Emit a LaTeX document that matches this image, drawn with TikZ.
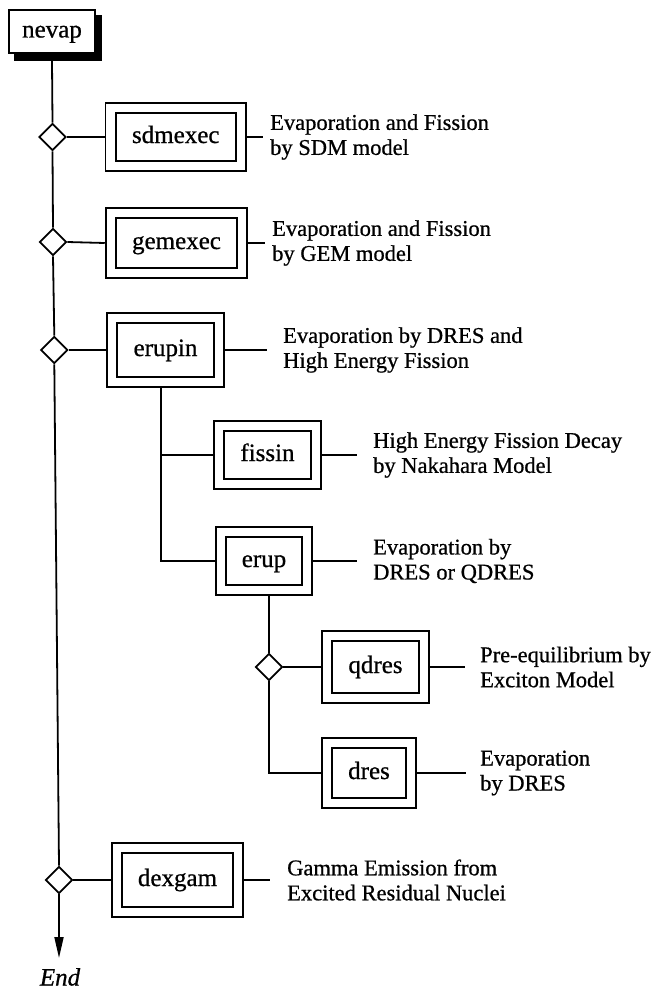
\documentclass[tikz,border=0pt]{standalone}
\usepackage{fontspec}
\setmainfont{Liberation Serif}[FakeBold=0.7]
\newfontfamily\inkfont{Liberation Serif}[FakeBold=0.7]
\usetikzlibrary{shapes.geometric,arrows.meta}

\begin{document}
\begin{tikzpicture}[x=1pt,y=-1pt,
  lw/.style={line width=1.8pt},
  proc/.style={draw, lw, double, double distance=8.4pt, outer sep=6pt,
    inner sep=0pt, text height=17pt, text depth=5pt,
    font=\inkfont\fontsize{25}{27}\selectfont},
  choice/.style={draw, lw, fill=white, diamond, aspect=1, inner sep=0pt,
    minimum width=27pt, minimum height=27pt},
  desc/.style={anchor=west, align=left, inner sep=0pt,
    font=\inkfont\fontsize{22.5}{25}\selectfont},
  wire/.style={lw}
]
\useasboundingbox (0,0) rectangle (651,990);

% start routine
\node[draw, lw, fill=white, minimum width=86pt, minimum height=43pt, inner sep=0pt,
  text height=17pt, text depth=5pt, font=\inkfont\fontsize{25}{27}\selectfont]
  (nevap) at (52,31.5) {nevap};
% its shadow: an L-shaped band along the right and bottom edges
\fill[black] (nevap.north east) ++(0,6) -- ++(6,0) |- ([xshift=6pt,yshift=-7pt]nevap.south west)
  -- ++(0,-7) -- (nevap.south east) -- cycle;

% decision points on the main line
\node[choice] (d1) at (52.5,137) {};
\node[choice] (d2) at (53,242) {};
\node[choice] (d3) at (54.3,350) {};
\node[choice] (d4) at (59,880) {};
\node[choice] (dq) at (269,667) {};

% routines
\node[proc, minimum width=130.5pt, minimum height=58pt] (sdm) at (175.75,137) {sdmexec};
\node[proc, minimum width=131.5pt, minimum height=60pt] (gem) at (176.5,243) {gemexec};
\node[proc, minimum width=107pt, minimum height=64pt] (erupin) at (165.5,350) {erupin};
\node[proc, minimum width=97pt, minimum height=58pt] (fissin) at (267.5,455) {fissin};
\node[proc, minimum width=86pt, minimum height=58pt] (erup) at (264,561) {erup};
\node[proc, minimum width=96.5pt, minimum height=62pt] (qdres) at (375.5,667) {qdres};
\node[proc, minimum width=84pt, minimum height=60pt] (dres) at (369,773) {dres};
\node[proc, minimum width=121pt, minimum height=64pt] (dexgam) at (177.5,880) {dexgam};

% descriptions
\node[desc] (tsdm) at (270,137) {Evaporation and Fission\\by SDM model};
\node[desc] (tgem) at (272,243) {Evaporation and Fission\\by GEM model};
\node[desc] (terupin) at (283,350) {Evaporation by DRES and\\High Energy Fission};
\node[desc] (tfissin) at (373,455) {High Energy Fission Decay\\by Nakahara Model};
\node[desc] (terup) at (373,561) {Evaporation by\\DRES or QDRES};
\node[desc] (tqdres) at (480,667) {Pre-equilibrium by\\Exciton Model};
\node[desc] (tdres) at (480,773) {Evaporation\\by DRES};
\node[desc] (tdexgam) at (287,880) {Gamma Emission from\\Excited Residual Nuclei};

\node[inner sep=0pt, font=\inkfont\fontsize{25}{27}\selectfont\itshape] (endlabel) at (60,977) {End};
\coordinate (tip) at (59,958);

% branch corners
\coordinate (b1) at (161,455);
\coordinate (b2) at (269,773);

% main line
\draw[wire] (nevap.south) ++(0,7) -- (d1.north);
\draw[wire] (d1.south) -- (d2.north);
\draw[wire] (d2.south) -- (d3.north);
\draw[wire] (d3.south) -- (d4.north);
\draw[wire, -{Triangle[length=21pt,width=9pt]}] (d4.south) -- (tip);

% decisions to routines
\draw[wire] (d1.east) -- (sdm.west);
\draw[wire] (d2.east) -- (gem.west);
\draw[wire] (d3.east) -- (erupin.west);
\draw[wire] (d4.east) -- (dexgam.west);

% erupin sub-calls
\draw[wire] (erupin.south -| b1) -- (b1 |- erup.west) -- (erup.west);
\draw[wire] (b1) -- (fissin.west);

% erup sub-calls
\draw[wire] (erup.south -| dq) -- (dq.north);
\draw[wire] (dq.east) -- (qdres.west);
\draw[wire] (dq.south) -- (b2) -- (dres.west);

% routines to descriptions
\draw[wire, shorten >=7pt] (sdm.east) -- (sdm.east -| tsdm.west);
\draw[wire, shorten >=7pt] (gem.east) -- (gem.east -| tgem.west);
\draw[wire, shorten >=16pt] (erupin.east) -- (erupin.east -| terupin.west);
\draw[wire, shorten >=16pt] (fissin.east) -- (fissin.east -| tfissin.west);
\draw[wire, shorten >=16pt] (erup.east) -- (erup.east -| terup.west);
\draw[wire, shorten >=15pt] (qdres.east) -- (qdres.east -| tqdres.west);
\draw[wire, shorten >=14pt] (dres.east) -- (dres.east -| tdres.west);
\draw[wire, shorten >=17pt] (dexgam.east) -- (dexgam.east -| tdexgam.west);
\end{tikzpicture}
\end{document}
